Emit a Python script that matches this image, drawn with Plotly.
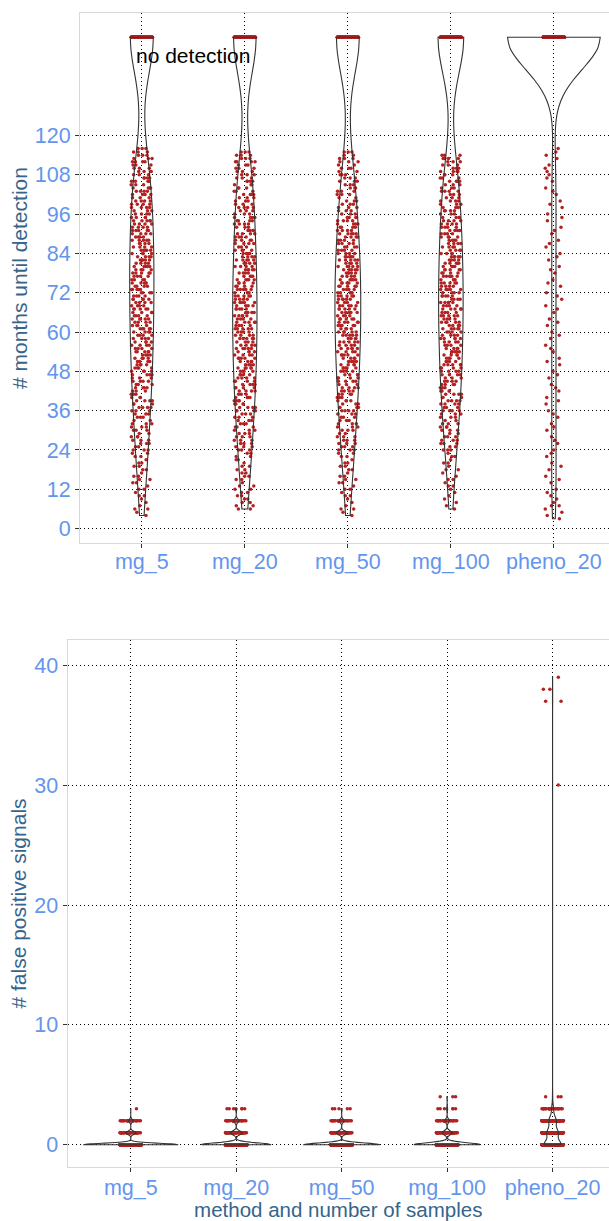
import numpy as np
import plotly.graph_objects as go

# ---------------- data ----------------
methods = ["mg_5", "mg_20", "mg_50", "mg_100", "pheno_20"]

# top panel: months until detection, counts of detected runs per 12-month bin
month_bin_edges = [0, 12, 24, 36, 48, 60, 72, 84, 96, 108, 120]
first_month = [4, 6, 4, 6, 3]
last_month = [116, 115, 115, 114, 116]
mg5_detected = [10, 21, 33, 42, 49, 52, 53, 52, 45, 28]
mg20_detected = [12, 22, 36, 47, 52, 54, 52, 46, 39, 25]
mg50_detected = [10, 21, 35, 46, 54, 57, 57, 49, 35, 21]
mg100_detected = [6, 17, 33, 44, 51, 54, 54, 48, 40, 23]
pheno20_detected = [10, 9, 9, 9, 9, 9, 9, 9, 9, 8]
no_detection_counts = [115, 115, 115, 130, 410]
NO_DETECTION_MONTHS = 150  # row where "no detection" runs are drawn
month_ticks = [0, 12, 24, 36, 48, 60, 72, 84, 96, 108, 120]

# bottom panel: number of false positive signals (count of runs per level)
fp_levels = [0, 1, 2, 3, 4]
mg5_fp = [431, 46, 22, 1, 0]
mg20_fp = [400, 65, 28, 7, 0]
mg50_fp = [410, 60, 25, 5, 0]
mg100_fp = [405, 60, 26, 6, 3]
pheno20_fp = [225, 146, 96, 24, 3]
pheno20_fp_outliers = [30, 37, 37, 38, 38, 39]
fp_ticks = [0, 10, 20, 30, 40]

detected = [mg5_detected, mg20_detected, mg50_detected, mg100_detected, pheno20_detected]
fp_counts = [mg5_fp, mg20_fp, mg50_fp, mg100_fp, pheno20_fp]

# ---------------- helpers ----------------
def expand_bins(counts, lo_m, hi_m):
    vals = []
    for i, c in enumerate(counts):
        a = max(month_bin_edges[i], lo_m)
        b = min(month_bin_edges[i + 1], hi_m + 1)
        for j in range(c):
            vals.append(a + int((j + 0.5) * (b - a) / c))
    return vals


def nrd0(v):
    v = np.asarray(v, float)
    hi = v.std(ddof=1)
    q75, q25 = np.percentile(v, [75, 25])
    lo = min(hi, (q75 - q25) / 1.34)
    if lo == 0:
        lo = hi or abs(v[0]) or 1.0
    return 0.9 * lo * len(v) ** -0.2


FONT = "Liberation Sans, Arial, sans-serif"
TICK_COLOR = "#6495ED"
TITLE_COLOR = "#36648B"
PT_COLOR = "#B22222"
JIT = 0.23

fig = go.Figure()


def points_trace(xcat, vals, xa, ya):
    v = list(vals)
    return go.Violin(
        x=[xcat] * len(v), y=v, xaxis=xa, yaxis=ya,
        points="all", jitter=JIT, pointpos=0, width=0.9,
        line=dict(width=0), fillcolor="rgba(0,0,0,0)",
        marker=dict(color=PT_COLOR, size=3.5, line=dict(width=0)),
        bandwidth=1, spanmode="manual", span=[min(v) - 1, max(v) + 1],
        scalegroup=f"p_{xa}_{xcat}_{v[0]}", showlegend=False, hoverinfo="skip",
    )


outlines_top = []
outlines_bot = []
for i, m in enumerate(methods):
    det = expand_bins(detected[i], first_month[i], last_month[i])
    nod = [NO_DETECTION_MONTHS] * no_detection_counts[i]
    fig.add_trace(points_trace(m, det, "x", "y"))
    fig.add_trace(points_trace(m, nod, "x", "y"))
    allv = det + nod
    outlines_top.append(go.Violin(
        x=[m] * len(allv), y=allv, xaxis="x", yaxis="y",
        points=False, line=dict(color="#333333", width=1.1),
        fillcolor="rgba(0,0,0,0)", bandwidth=nrd0(allv), spanmode="hard",
        scalemode="width", scalegroup="top", showlegend=False, hoverinfo="skip",
    ))

    fpv = []
    for lev, c in zip(fp_levels, fp_counts[i]):
        if c > 0:
            fig.add_trace(points_trace(m, [lev] * c, "x2", "y2"))
            fpv += [lev] * c
    if m == "pheno_20":
        fig.add_trace(points_trace(m, pheno20_fp_outliers, "x2", "y2"))
        fpv += pheno20_fp_outliers
    outlines_bot.append(go.Violin(
        x=[m] * len(fpv), y=fpv, xaxis="x2", yaxis="y2",
        points=False, line=dict(color="#333333", width=1.1),
        fillcolor="rgba(0,0,0,0)", bandwidth=nrd0(fpv), spanmode="hard",
        scalemode="width", scalegroup="bottom", showlegend=False, hoverinfo="skip",
    ))

for t in outlines_top + outlines_bot:
    fig.add_trace(t)

W, H = 609, 1221
axis_common = dict(
    showgrid=True, gridcolor="#000000", gridwidth=1, griddash="1px,3px",
    showline=True, linecolor="#D9D9D9", linewidth=1,
    ticks="outside", ticklen=4, tickcolor="#333333", tickwidth=1,
    tickfont=dict(family=FONT, size=21.5, color=TICK_COLOR),
    zeroline=False, automargin=False,
)

fig.update_layout(
    width=W, height=H,
    margin=dict(l=0, r=0, t=0, b=0),
    paper_bgcolor="white", plot_bgcolor="white",
    violinmode="overlay", violingap=0.1, violingroupgap=0,
    showlegend=False,
    font=dict(family=FONT),
    xaxis=dict(axis_common, type="category", categoryorder="array", categoryarray=methods,
               range=[-0.6, 4.535], domain=[80 / W, 1], anchor="y", mirror=True,
               ticklabelstandoff=-5),
    yaxis=dict(axis_common, range=[-4.4, 157.4], tickvals=month_ticks,
               domain=[1 - 543 / H, 1 - 13 / H], anchor="x",
               title=dict(text="# months until detection", standoff=1,
                          font=dict(family=FONT, size=21, color=TITLE_COLOR))),
    xaxis2=dict(axis_common, type="category", categoryorder="array", categoryarray=methods,
                range=[-0.6, 4.535], domain=[67.5 / W, 1], anchor="y2", mirror=True,
                ticklabelstandoff=-3,
                title=dict(text="method and number of samples", standoff=0,
                           font=dict(family=FONT, size=20.5, color=TITLE_COLOR))),
    yaxis2=dict(axis_common, range=[-1.85, 42.1], tickvals=fp_ticks,
                domain=[1 - 1167 / H, 1 - 640 / H], anchor="x2",
                title=dict(text="# false positive signals", standoff=1,
                           font=dict(family=FONT, size=21, color=TITLE_COLOR))),
    annotations=[dict(x=0.5, y=144.5, xref="x", yref="y", text="no detection",
                      showarrow=False, font=dict(family=FONT, size=21, color="black"))],
)

fig.write_html("out.html", config={"displayModeBar": False},
               post_script="document.body.style.margin='0';")
